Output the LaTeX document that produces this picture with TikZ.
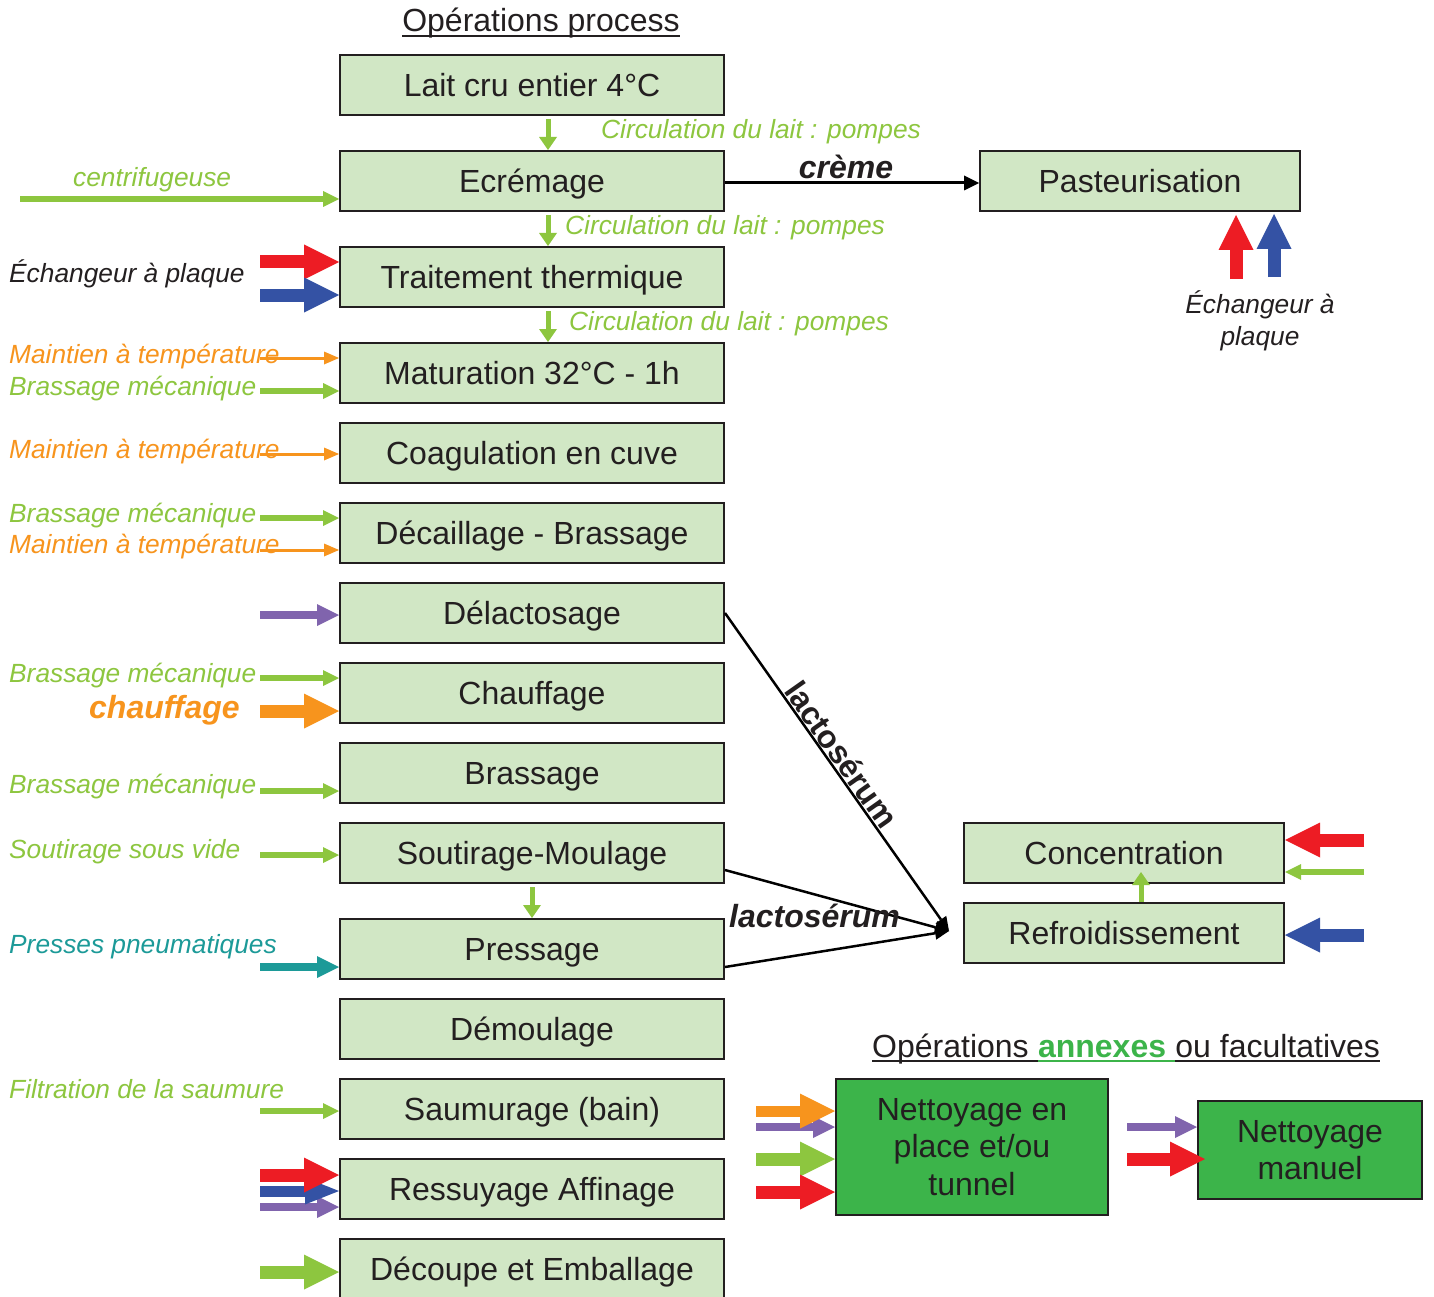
\documentclass[tikz,border=0pt]{standalone}
\usepackage{fontspec}
\setmainfont{Liberation Sans}
\usetikzlibrary{arrows.meta,calc}

\definecolor{ink}{HTML}{231F20}
\definecolor{boxfill}{HTML}{D1E7C5}
\definecolor{dgreen}{HTML}{3CB44A}
\definecolor{lgreen}{HTML}{8DC63F}
\definecolor{hred}{HTML}{ED1C24}
\definecolor{hblue}{HTML}{3452A4}
\definecolor{horange}{HTML}{F7941D}
\definecolor{hpurple}{HTML}{8064AD}
\definecolor{hteal}{HTML}{1C9A98}

\newcommand{\bxfont}{\fontsize{32}{38}\selectfont}
\newcommand{\nbfont}{\fontsize{32}{37.5}\selectfont}
\newcommand{\lblfont}{\fontsize{26.3}{32}\selectfont\itshape}

\tikzset{
  stepbox/.style={draw=ink, line width=2pt, fill=boxfill, minimum width=384pt,
    minimum height=60pt, inner sep=0pt, text height=23pt, text depth=0pt,
    font=\bxfont, text=ink},
  sidebox/.style={stepbox, minimum width=320pt},
  annexbox/.style={draw=ink, line width=2pt, fill=dgreen, inner sep=0pt,
    align=center, font=\nbfont, text=ink},
  lbl/.style={font=\lblfont, inner sep=0pt, anchor=base west},
  ttl/.style={font=\bxfont, inner sep=0pt, anchor=base west, text=ink},
  blk/.style n args={3}{line width=#1,
    -{Triangle[length=#3, width=#2, line width=0pt]}},
  fat/.style={blk={13pt}{35pt}{35pt}},
  fatn/.style={blk={11pt}{35pt}{35pt}},
  fatb/.style={blk={11pt}{27pt}{34pt}},
  med/.style={blk={6pt}{16pt}{16pt}},
  thn/.style={blk={3pt}{13pt}{15pt}},
  pur/.style={blk={8pt}{22pt}{22pt}},
  circ/.style={blk={5pt}{18pt}{13pt}, lgreen},
  cream/.style={draw=black, line width=3pt,
    -{Triangle[length=15pt, width=15pt, line width=0pt]}},
  lac/.style={draw=black, line width=2.5pt,
    -{Triangle[length=14pt, width=13pt, line width=0pt]}},
}

\begin{document}
\begin{tikzpicture}[x=1pt, y=-1pt]
\useasboundingbox (0,0) rectangle (1434,1297);
\fill[white] (0,0) rectangle (1434,1297);

% process column title
\node[ttl, anchor=base] (t1) at (541,32) {Opérations process};
\draw[ink, line width=2pt] ([yshift=-4pt]t1.base west) -- ([yshift=-4pt]t1.base east);

% process steps
\node[stepbox] (b1)  at (532,85)   {Lait cru entier 4°C};
\node[stepbox] (b2)  at (532,181)  {Ecrémage};
\node[stepbox] (b3)  at (532,277)  {Traitement thermique};
\node[stepbox] (b4)  at (532,373)  {Maturation 32°C - 1h};
\node[stepbox] (b5)  at (532,453)  {Coagulation en cuve};
\node[stepbox] (b6)  at (532,533)  {Décaillage - Brassage};
\node[stepbox] (b7)  at (532,613)  {Délactosage};
\node[stepbox] (b8)  at (532,693)  {Chauffage};
\node[stepbox] (b9)  at (532,773)  {Brassage};
\node[stepbox] (b10) at (532,853)  {Soutirage-Moulage};
\node[stepbox] (b11) at (532,949)  {Pressage};
\node[stepbox] (b12) at (532,1029) {Démoulage};
\node[stepbox] (b13) at (532,1109) {Saumurage (bain)};
\node[stepbox] (b14) at (532,1189) {Ressuyage Affinage};
\node[stepbox] (b15) at (532,1269) {Découpe et Emballage};

% side processes
\node[sidebox] (past) at (1140,181) {Pasteurisation};
\node[sidebox] (conc) at (1124,853) {Concentration};
\node[sidebox] (refr) at (1124,933) {Refroidissement};

% milk circulation
\coordinate (cx1) at (548,0);
\draw[circ] ([yshift=-3pt]b1.south -| cx1) -- (b2.north -| cx1);
\draw[circ] ([yshift=-3pt]b2.south -| cx1) -- (b3.north -| cx1);
\draw[circ] ([yshift=-3pt]b3.south -| cx1) -- (b4.north -| cx1);
\draw[circ] ([yshift=-3pt]b10.south) -- (b11.north);
\node[lbl, text=lgreen] (c1) at (601,139) {Circulation du lait : pompes};
\node[lbl, text=lgreen] (c2) at (565,235) {Circulation du lait : pompes};
\node[lbl, text=lgreen] (c3) at (569,330) {Circulation du lait : pompes};

% cream to pasteurisation
\draw[cream] ([yshift=-2pt]b2.east) -- ([yshift=-2pt]past.west);
\node[font=\bxfont\bfseries\itshape, text=ink, inner sep=0pt, anchor=base] (lcr) at (846,179) {crème};
\coordinate (pr) at (1236,279);
\coordinate (pb) at (1274,277);
\draw[fat, hred]  (pr) -- ([yshift=-3pt]past.south -| pr);
\draw[fat, hblue] (pb) -- ([yshift=-2pt]past.south -| pb);
\node[font=\lblfont, text=ink, align=center, inner sep=0pt, anchor=north] (lech2) at (1260,290) {Échangeur à\\plaque};

% inputs on the left
\coordinate (a1) at (20,199);
\draw[med, lgreen] (a1) -- (a1 -| b2.west);
\node[lbl, text=lgreen] (l1) at (73,187) {centrifugeuse};

\coordinate (a2) at (260,262);
\coordinate (a3) at (260,295);
\draw[fat, hred]  (a2) -- (a2 -| b3.west);
\draw[fat, hblue] (a3) -- (a3 -| b3.west);
\node[lbl, text=ink] (l2) at (9,283) {Échangeur à plaque};

\node[lbl, text=horange] (l3) at (9,363) {Maintien à température};
\node[lbl, text=lgreen] (l4) at (9,395) {Brassage mécanique};
\coordinate (a4) at (260,358);
\coordinate (a5) at (260,391);
\draw[thn, horange] (a4) -- (a4 -| b4.west);
\draw[med, lgreen] (a5) -- (a5 -| b4.west);

\node[lbl, text=horange] (l5) at (9,458) {Maintien à température};
\coordinate (a6) at (260,454);
\draw[thn, horange] (a6) -- (a6 -| b5.west);

\node[lbl, text=lgreen] (l6) at (9,522) {Brassage mécanique};
\node[lbl, text=horange] (l7) at (9,553) {Maintien à température};
\coordinate (a7) at (260,518);
\coordinate (a8) at (260,550);
\draw[med, lgreen] (a7) -- (a7 -| b6.west);
\draw[thn, horange] (a8) -- (a8 -| b6.west);

\coordinate (a9) at (260,615);
\draw[pur, hpurple] (a9) -- (a9 -| b7.west);

\node[lbl, text=lgreen] (l8) at (9,682) {Brassage mécanique};
\node[lbl, font=\bxfont\bfseries\itshape, text=horange] (l9) at (89,718) {chauffage};
\coordinate (a10) at (260,678);
\coordinate (a11) at (260,711);
\draw[med, lgreen] (a10) -- (a10 -| b8.west);
\draw[fat, horange] (a11) -- (a11 -| b8.west);

\node[lbl, text=lgreen] (l10) at (9,793) {Brassage mécanique};
\coordinate (a12) at (260,791);
\draw[med, lgreen] (a12) -- (a12 -| b9.west);

\node[lbl, text=lgreen] (l11) at (9,858) {Soutirage sous vide};
\coordinate (a13) at (260,855);
\draw[med, lgreen] (a13) -- (a13 -| b10.west);

\node[lbl, text=hteal] (l12) at (9,953) {Presses pneumatiques};
\coordinate (a14) at (260,967);
\draw[pur, hteal] (a14) -- (a14 -| b11.west);

\node[lbl, text=lgreen] (l13) at (9,1098) {Filtration de la saumure};
\coordinate (a15) at (260,1111);
\draw[med, lgreen] (a15) -- (a15 -| b13.west);

\coordinate (a16) at (260,1207);
\coordinate (a17) at (260,1191);
\coordinate (a18) at (260,1175);
\draw[pur, hpurple] (a16) -- (a16 -| b14.west);
\draw[fatb, hblue] (a17) -- (a17 -| b14.west);
\draw[fat, hred] (a18) -- (a18 -| b14.west);

\coordinate (a19) at (260,1272);
\draw[fat, lgreen] (a19) -- (a19 -| b15.west);

% whey towards concentration
\coordinate (lj) at (949,931);
\draw[lac] (b7.east) -- node[pos=0.47, sloped, above=1pt, inner sep=0pt,
  font=\bxfont\bfseries, text=ink] (lt1) {lactosérum} (lj);
\draw[lac] ([yshift=-17pt]b10.east) -- (lj);
\draw[lac] ([yshift=-18pt]b11.east) -- (lj);
\node[ttl, font=\bxfont\bfseries\itshape] (lt2) at (729,927) {lactosérum};

% concentration utilities
\coordinate (ccx) at (1141,0);
\draw[circ] (refr.north -| ccx) -- ([yshift=12pt]conc.south -| ccx);
\coordinate (r1) at (1364,840);
\coordinate (r2) at (1364,872);
\coordinate (r3) at (1364,935);
\draw[fat, hred] (r1) -- (r1 -| conc.east);
\draw[med, lgreen] (r2) -- (r2 -| conc.east);
\draw[fat, hblue] (r3) -- (r3 -| refr.east);

% annex operations
\node[ttl] (h1) at (872,1057) {Opérations\kern\fontdimen2\font};
\node[ttl, font=\bxfont\bfseries, text=dgreen] (h2) at (h1.base east) {annexes\kern\fontdimen2\font};
\node[ttl] (h3) at (h2.base east) {ou facultatives};
\draw[ink, line width=2pt] ([yshift=-4pt]h1.base west) -- ([yshift=-4pt]h1.base east);
\draw[dgreen, line width=2pt] ([yshift=-4pt]h2.base west) -- ([yshift=-4pt]h2.base east);
\draw[ink, line width=2pt] ([yshift=-4pt]h3.base west) -- ([yshift=-4pt]h3.base east);

\node[annexbox, minimum width=272pt, minimum height=136pt] (net1) at (972,1147)
  {Nettoyage en\\place et/ou\\tunnel};
\node[annexbox, minimum width=224pt, minimum height=98pt] (net2) at (1310,1150)
  {Nettoyage\\manuel};

\coordinate (n1) at (756,1111);
\coordinate (n2) at (756,1127);
\coordinate (n3) at (756,1159);
\coordinate (n4) at (756,1192);
\draw[pur, hpurple] (n2) -- (n2 -| net1.west);
\draw[fatn, horange] (n1) -- (n1 -| net1.west);
\draw[fat, lgreen] (n3) -- (n3 -| net1.west);
\draw[fat, hred] (n4) -- (n4 -| net1.west);

\coordinate (m1) at (1127,1127);
\coordinate (m2) at (1127,1159);
\draw[pur, hpurple] (m1) -- (m1 -| net2.west);
\draw[fat, hred] (m2) -- ([xshift=8pt]net2.west |- m2);
\end{tikzpicture}
\end{document}
